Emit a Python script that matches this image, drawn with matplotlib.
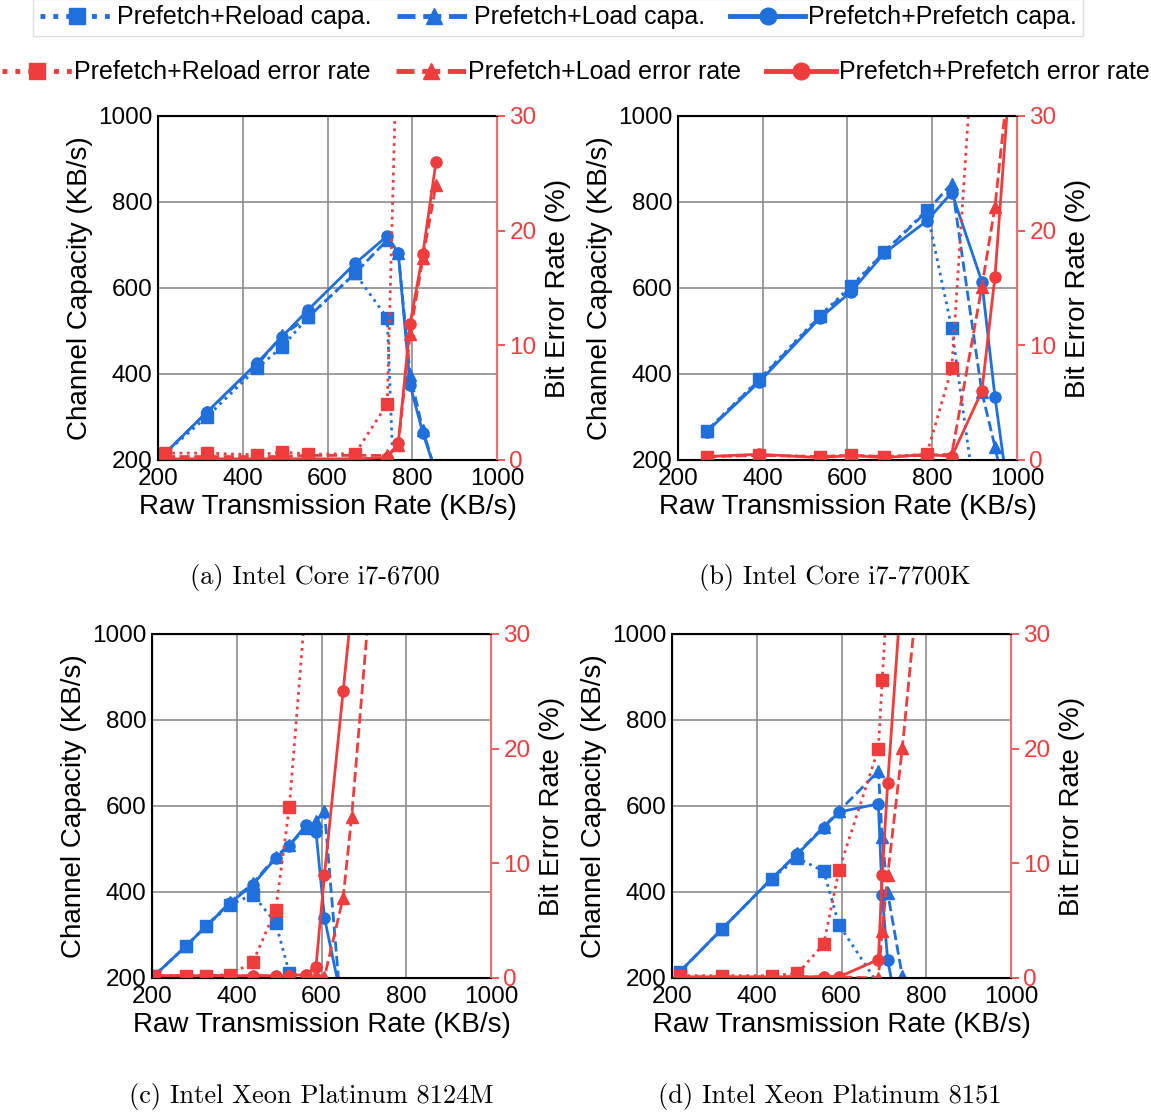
import numpy as np
import matplotlib
matplotlib.use("Agg")
import matplotlib.pyplot as plt
from matplotlib.lines import Line2D

plt.rcParams['font.family'] = ['Liberation Sans', 'DejaVu Sans']

nan = np.nan
blue = '#1f6fdc'
red = '#f03c3c'

# (a) Intel Core i7-6700
rate_a = [216, 316, 433, 493, 555, 665, 741, 767, 795, 825, 856]
cap_pr_a = [215, 301, 413, 463, 533, 634, 530, -130, nan, nan, nan]
cap_pl_a = [215, 312, 420, 490, 533, 634, 712, 682, 398, 270, 170]
cap_pp_a = [215, 312, 425, 487, 550, 657, 721, 682, 374, 263, 170]
err_pr_a = [0.6, 0.6, 0.45, 0.7, 0.5, 0.55, 4.9, 41, nan, nan, nan]
err_pl_a = [0.3, 0.3, 0.3, 0.3, 0.4, 0.4, 0.4, 1.3, 11.0, 17.6, 24.0]
err_pp_a = [0.1, 0.1, 0.1, 0.1, 0.1, 0.1, 0.2, 1.45, 11.9, 18.0, 26.0]

# (b) Intel Core i7-7700K
rate_b = [268, 392, 535, 608, 687, 787, 846, 917, 948, 985]
cap_pr_b = [268, 388, 536, 604, 684, 781, 506, 0, nan, nan]
cap_pl_b = [268, 386, 534, 600, 684, 778, 843, 358, 231, 60]
cap_pp_b = [266, 382, 530, 591, 681, 756, 822, 615, 347, 80]
err_pr_b = [0.3, 0.4, 0.3, 0.4, 0.3, 0.5, 8.0, 48, nan, nan]
err_pl_b = [0.3, 0.4, 0.3, 0.4, 0.3, 0.4, 0.5, 15.1, 22.1, 35]
err_pp_b = [0.3, 0.5, 0.2, 0.4, 0.2, 0.5, 0.3, 6.0, 16.0, 34.5]

# (c) Intel Xeon Platinum 8124M
rate_c = [205, 280, 327, 384, 438, 492, 524, 563, 587, 607, 651, 671, 720]
cap_pr_c = [205, 274, 320, 370, 394, 328, 212, 0, nan, nan, nan, nan, nan]
cap_pl_c = [205, 274, 320, 376, 420, 482, 510, 548, 564, 588, 69, nan, nan]
cap_pp_c = [205, 274, 320, 374, 417, 479, 508, 555, 540, 340, 132, nan, nan]
err_pr_c = [0.2, 0.2, 0.2, 0.3, 1.37, 5.96, 14.9, 32.8, nan, nan, nan, nan, nan]
err_pl_c = [0.2, 0.2, 0.2, 0.2, 0.2, 0.2, 0.3, 0.3, 0.3, 0.1, 7.0, 14.0, 35.8]
err_pp_c = [0.2, 0.2, 0.2, 0.2, 0.2, 0.2, 0.2, 0.3, 1.0, 9.0, 25.0, 32.3, nan]

# (d) Intel Xeon Platinum 8151
rate_d = [219, 319, 435, 496, 558, 594, 687, 696, 709, 743.5, 780]
cap_pr_d = [215, 315, 431, 479, 448, 324, 185, nan, nan, nan, nan]
cap_pl_d = [215, 315, 431, 490, 552, 588, 681, 527, 398, 204, nan]
cap_pp_d = [215, 315, 431, 488, 550, 586, 605, 392, 241, 65, nan]
err_pr_d = [0.2, 0.2, 0.2, 0.4, 2.96, 9.4, 20.0, 26.0, 34, nan, nan]
err_pl_d = [0.1, 0.1, 0.1, 0.1, 0.1, 0.1, 0.0, 4.1, 9.0, 20.05, 34]
err_pp_d = [0.1, 0.1, 0.1, 0.1, 0.1, 0.1, 1.6, 9.0, 17.0, 35, nan]

captions = ['(a) Intel Core i7-6700', '(b) Intel Core i7-7700K',
            '(c) Intel Xeon Platinum 8124M', '(d) Intel Xeon Platinum 8151']

panels = [
    (rate_a, cap_pr_a, cap_pl_a, cap_pp_a, err_pr_a, err_pl_a, err_pp_a),
    (rate_b, cap_pr_b, cap_pl_b, cap_pp_b, err_pr_b, err_pl_b, err_pp_b),
    (rate_c, cap_pr_c, cap_pl_c, cap_pp_c, err_pr_c, err_pl_c, err_pp_c),
    (rate_d, cap_pr_d, cap_pl_d, cap_pp_d, err_pr_d, err_pl_d, err_pp_d),
]

W, H = 1151, 1116
fig = plt.figure(figsize=(W / 100, H / 100), dpi=100)

# axes boxes in pixels: left, top, right, bottom
boxes = [(158, 116, 497, 460), (678, 116, 1017, 460),
         (152, 634, 491, 978), (672, 634, 1011, 978)]
cap_pos = [(315, 578), (835, 578), (311, 1096), (830, 1096)]

styles = [(':', 's'), ('--', '^'), ('-', 'o')]

for i, (box, data) in enumerate(zip(boxes, panels)):
    l, t, r, b = box
    ax = fig.add_axes([l / W, 1 - b / H, (r - l) / W, (b - t) / H])
    ax2 = ax.twinx()
    x = data[0]
    for (ls, mk), y in zip(styles, data[1:4]):
        ax.plot(x, y, linestyle=ls, marker=mk, color=blue, lw=2, ms=8)
    for (ls, mk), y in zip(styles, data[4:7]):
        ax2.plot(x, y, linestyle=ls, marker=mk, color=red, lw=2, ms=8)
    ax.set_xlim(200, 1000)
    ax.set_ylim(200, 1000)
    ax2.set_ylim(0, 30)
    ax.set_xticks([200, 400, 600, 800, 1000])
    ax.set_yticks([200, 400, 600, 800, 1000])
    ax2.set_yticks([0, 10, 20, 30])
    ax.grid(True, color='#8c8c8c', lw=1.2)
    ax.tick_params(axis='y', length=0, labelsize=17.5, pad=4)
    ax.tick_params(axis='x', length=0, labelsize=17.5, pad=6)
    ax2.tick_params(axis='y', colors=red, length=6, width=1.2, labelsize=17.5, pad=3)
    ax2.spines['right'].set_color('#f07070')
    ax2.spines['right'].set_linewidth(1.5)
    for s in ['left', 'top', 'bottom']:
        ax.spines[s].set_linewidth(1.5)
    ax.set_xlabel('Raw Transmission Rate (KB/s)', fontsize=20, labelpad=3)
    ax.set_ylabel('Channel Capacity (KB/s)', fontsize=20, labelpad=4)
    ax2.set_ylabel('Bit Error Rate (%)', fontsize=20, labelpad=6)
    cx, cy = cap_pos[i]
    fig.text(cx / W, 1 - cy / H, captions[i], fontsize=19, family='cmr10',
             ha='center', va='center')

names_cap = ['Prefetch+Reload capa.', 'Prefetch+Load capa.', 'Prefetch+Prefetch capa.']
names_err = ['Prefetch+Reload error rate', 'Prefetch+Load error rate',
             'Prefetch+Prefetch error rate']
h_cap = [Line2D([], [], color=blue, ls=ls, marker=mk, lw=3.5, ms=12) for ls, mk in styles]
h_err = [Line2D([], [], color=red, ls=ls, marker=mk, lw=3.5, ms=12) for ls, mk in styles]

leg1 = fig.legend(h_cap, names_cap, ncol=3, loc='upper center',
                  bbox_to_anchor=(0.485, 1.012), fontsize=18, frameon=True,
                  fancybox=False, edgecolor='#d8d8d8', handlelength=3,
                  handletextpad=0.1, columnspacing=1.0, borderpad=0.25)
leg2 = fig.legend(h_err, names_err, ncol=3, loc='upper center',
                  bbox_to_anchor=(0.5, 0.966), fontsize=18, frameon=False,
                  handlelength=2.8, handletextpad=0.1, columnspacing=1.0)

fig.savefig('out.png', dpi=100)
